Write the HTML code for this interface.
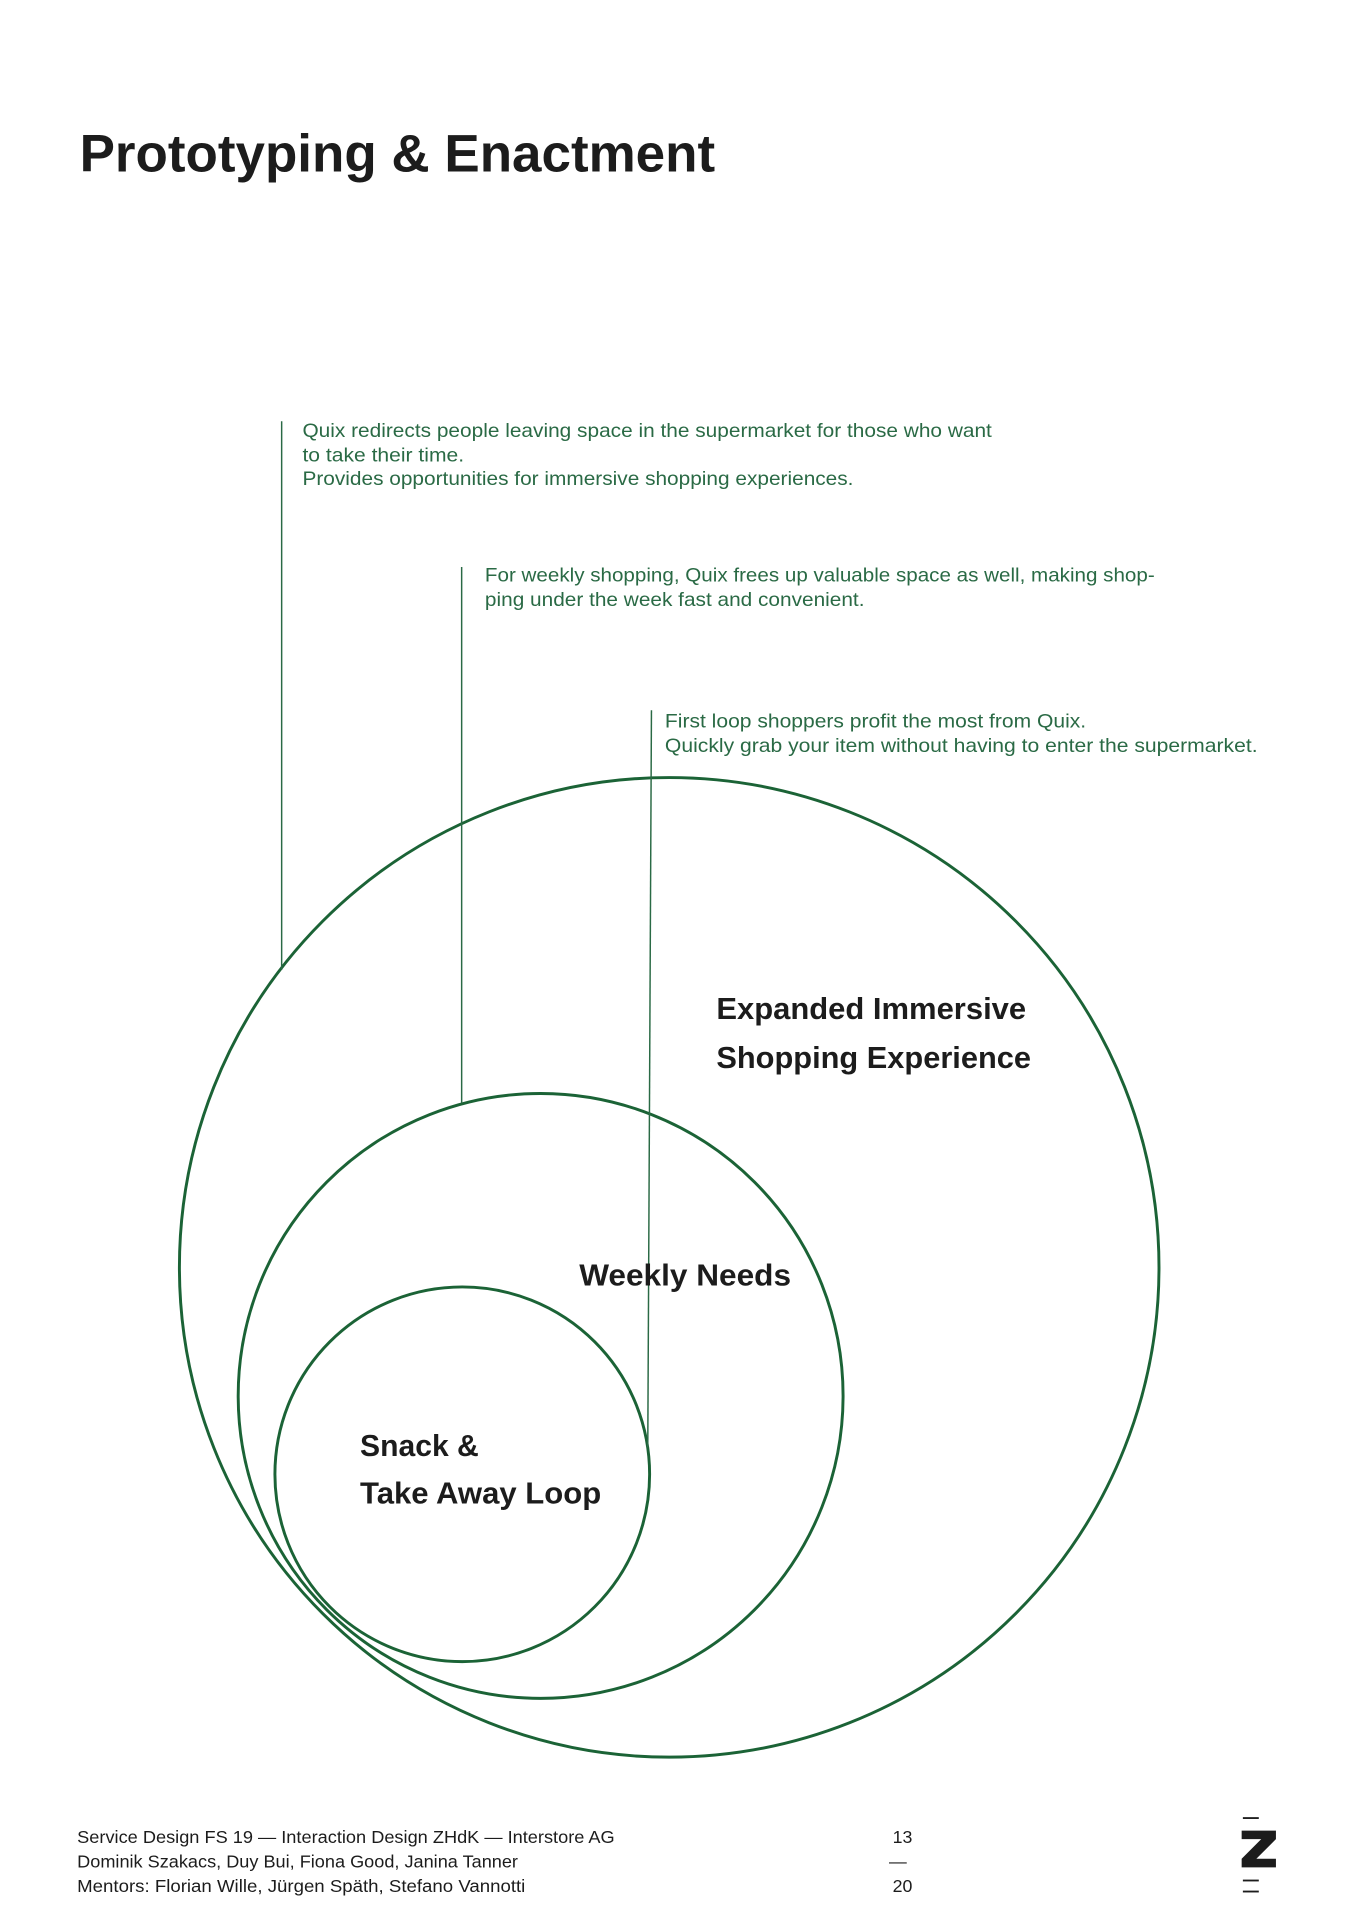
<!DOCTYPE html>
<html><head><meta charset="utf-8"><style>html,body{margin:0;padding:0;background:#fff}svg{display:block}</style></head>
<body>
<svg width="1358" height="1920" viewBox="0 0 1109 1568" xmlns="http://www.w3.org/2000/svg" font-family="'Liberation Sans', sans-serif">
<rect width="1109" height="1568" fill="#fff"/>
<text x="65" y="140" font-size="43" font-weight="bold" fill="#1c1c1c" textLength="519" lengthAdjust="spacingAndGlyphs">Prototyping &amp; Enactment</text>
<g fill="none" stroke="#1b6336" stroke-width="2.4">
<circle cx="546.5" cy="1035" r="400"/>
<circle cx="441.5" cy="1140" r="247"/>
<circle cx="377.5" cy="1204" r="153"/>
</g>
<g stroke="#2a6a45" stroke-width="1.2">
<line x1="230" y1="344" x2="230" y2="792"/>
<line x1="377" y1="463" x2="377" y2="901"/>
<line x1="532" y1="580" x2="529" y2="1182"/>
</g>
<g fill="#2a6a45" font-size="15.5">
<text x="247" y="357" textLength="563" lengthAdjust="spacingAndGlyphs">Quix redirects people leaving space in the supermarket for those who want</text>
<text x="247" y="377" textLength="132" lengthAdjust="spacingAndGlyphs">to take their time.</text>
<text x="247" y="396" textLength="450" lengthAdjust="spacingAndGlyphs">Provides opportunities for immersive shopping experiences.</text>
<text x="396" y="475" textLength="547" lengthAdjust="spacingAndGlyphs">For weekly shopping, Quix frees up valuable space as well, making shop-</text>
<text x="396" y="495" textLength="310" lengthAdjust="spacingAndGlyphs">ping under the week fast and convenient.</text>
<text x="543" y="594" textLength="344" lengthAdjust="spacingAndGlyphs">First loop shoppers profit the most from Quix.</text>
<text x="543" y="614" textLength="484" lengthAdjust="spacingAndGlyphs">Quickly grab your item without having to enter the supermarket.</text>
</g>
<g fill="#1c1c1c" font-size="25" font-weight="bold">
<text x="585" y="832" textLength="253" lengthAdjust="spacingAndGlyphs">Expanded Immersive</text>
<text x="585" y="872" textLength="257" lengthAdjust="spacingAndGlyphs">Shopping Experience</text>
<text x="473" y="1050" textLength="173" lengthAdjust="spacingAndGlyphs">Weekly Needs</text>
<text x="294" y="1189" textLength="97" lengthAdjust="spacingAndGlyphs">Snack &amp;</text>
<text x="294" y="1228" textLength="197" lengthAdjust="spacingAndGlyphs">Take Away Loop</text>
</g>
<g fill="#1c1c1c" font-size="14.5">
<text x="63" y="1505" textLength="439" lengthAdjust="spacingAndGlyphs">Service Design FS 19 — Interaction Design ZHdK — Interstore AG</text>
<text x="63" y="1525" textLength="360" lengthAdjust="spacingAndGlyphs">Dominik Szakacs, Duy Bui, Fiona Good, Janina Tanner</text>
<text x="63" y="1545" textLength="366" lengthAdjust="spacingAndGlyphs">Mentors: Florian Wille, Jürgen Späth, Stefano Vannotti</text>
<text x="729" y="1505">13</text>
<text x="726" y="1525">—</text>
<text x="729" y="1545">20</text>
</g>
<g fill="#1c1c1c">
<rect x="1015" y="1484" width="13" height="1.5"/>
<path d="M1014 1495 H1042 V1502 L1026 1518 H1042 V1525 H1014 V1518 L1030 1502 H1014 Z"/>
<rect x="1015" y="1535" width="13" height="1.5"/>
<rect x="1015" y="1544" width="13" height="1.5"/>
</g>
</svg>
</body></html>
